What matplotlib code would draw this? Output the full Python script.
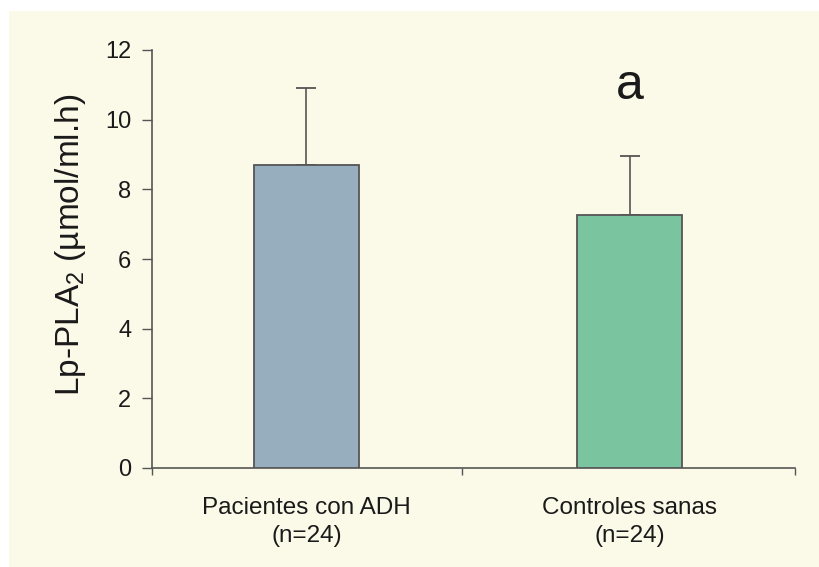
import matplotlib
matplotlib.use("Agg")
import matplotlib.pyplot as plt
from matplotlib.patches import Rectangle

# Lp-PLA2 activity by group (mean with upper SD)
groups = ["Pacientes con ADH\n(n=24)", "Controles sanas\n(n=24)"]
means = [8.7, 7.25]
sd_upper = [2.2, 1.7]
bar_colors = ["#97AEBE", "#7BC4A0"]
sig_label = "a"
sig_y = 10.6
yticks = [0, 2, 4, 6, 8, 10, 12]

plt.rcParams["font.family"] = ["Liberation Sans", "DejaVu Sans"]
plt.rcParams["mathtext.fontset"] = "custom"
plt.rcParams["mathtext.rm"] = "Liberation Sans"
plt.rcParams["mathtext.it"] = "Liberation Sans"

edge = "#555555"
cream = "#FBF9E7"

fig = plt.figure(figsize=(8.2, 5.67), dpi=100, facecolor="white")
fig.patches.append(Rectangle((9 / 820, 0), 1, 1 - 11 / 567,
                             transform=fig.transFigure, facecolor=cream,
                             edgecolor="none", zorder=-10))
ax = fig.add_axes([152 / 820, 1 - 468 / 567, 643 / 820, 418 / 567])
ax.set_facecolor("none")

x = list(range(len(means)))
ax.bar(x, means, width=0.325, color=bar_colors, edgecolor=edge, linewidth=1.3,
       zorder=3)
ax.errorbar(x, means, yerr=[[0] * len(means), sd_upper], fmt="none",
            ecolor=edge, elinewidth=1.2, capsize=7, capthick=1.3, zorder=2)

ax.text(1, sig_y, sig_label, ha="center", va="baseline", fontsize=36,
        color="#1a1a1a")

xmin, xmax = -0.478, 1.512
ax.set_xlim(xmin, xmax)
ax.set_ylim(0, 12)
ax.set_yticks(yticks)
ax.set_yticklabels([str(t) for t in yticks])

# category boundaries get the ticks, names sit between them
ax.set_xticks([xmin, 0.48, xmax])
ax.set_xticklabels([])
ax.set_xticks(x, minor=True)
ax.set_xticklabels(groups, minor=True, fontsize=17.5, color="#1a1a1a",
                   linespacing=1.35)
ax.tick_params(axis="x", which="minor", length=0, pad=21)
ax.tick_params(axis="x", which="major", direction="out", length=5,
               width=1, color=edge)
ax.tick_params(axis="y", direction="out", length=7, width=1, color=edge,
               labelsize=17, labelcolor="#1a1a1a", pad=8)

for side in ("top", "right"):
    ax.spines[side].set_visible(False)
for side in ("left", "bottom"):
    ax.spines[side].set_color(edge)
    ax.spines[side].set_linewidth(1.2)

ax.set_ylabel(r"Lp-PLA$_2$ (µmol/ml.h)", fontsize=24, color="#1a1a1a")
ax.yaxis.set_label_coords(-0.1, 0.533)

fig.savefig("out.png", dpi=100, facecolor="white")
